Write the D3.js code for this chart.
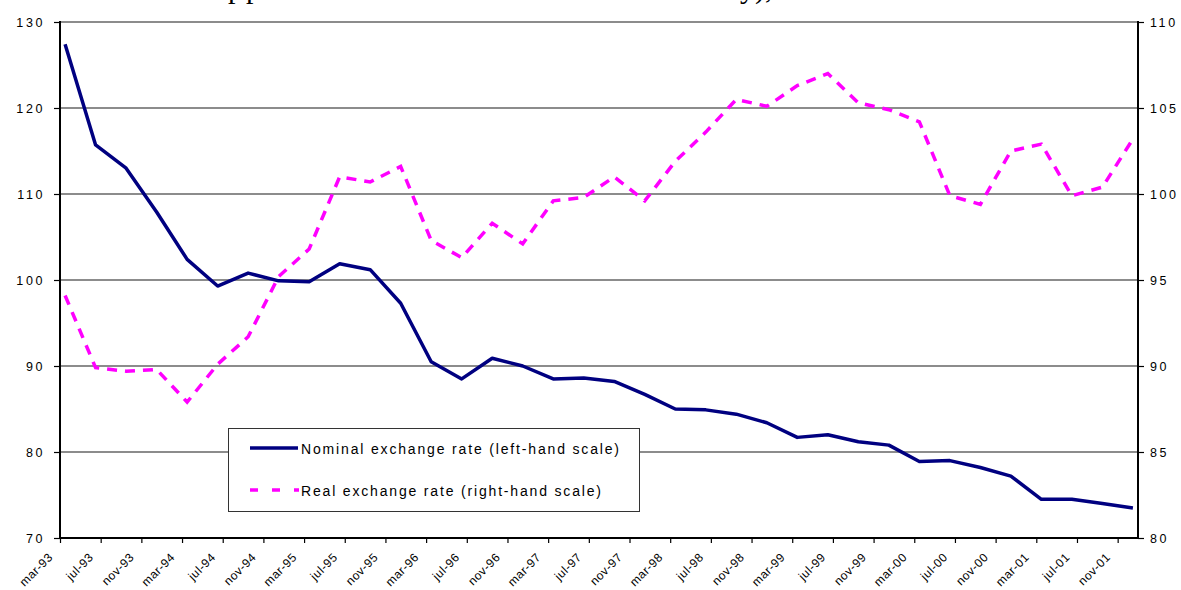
<!DOCTYPE html>
<html>
<head>
<meta charset="utf-8">
<script src="https://cdn.jsdelivr.net/npm/d3@7"></script>
<style>
  html, body { margin: 0; padding: 0; background: #fff; }
  svg { display: block; }
  text { font-family: "Liberation Sans", Arial, sans-serif; fill: #000; }
</style>
</head>
<body>
<svg id="chart" width="1181" height="590"></svg>
<script>
// Quarterly observations (mar-93 .. dec-01)
const quarters = [
  "mar-93","jun-93","sep-93","dec-93","mar-94","jun-94","sep-94","dec-94",
  "mar-95","jun-95","sep-95","dec-95","mar-96","jun-96","sep-96","dec-96",
  "mar-97","jun-97","sep-97","dec-97","mar-98","jun-98","sep-98","dec-98",
  "mar-99","jun-99","sep-99","dec-99","mar-00","jun-00","sep-00","dec-00",
  "mar-01","jun-01","sep-01","dec-01"
];
// Nominal exchange rate (left-hand scale)
const nominal = [
  127.4, 115.7, 113.0, 107.9, 102.4, 99.3, 100.8, 99.9,
  99.8, 101.9, 101.2, 97.3, 90.5, 88.5, 90.9, 90.0,
  88.5, 88.6, 88.2, 86.7, 85.0, 84.9, 84.4, 83.4,
  81.7, 82.0, 81.2, 80.8, 78.9, 79.0, 78.2, 77.2,
  74.5, 74.5, 74.0, 73.5
];
// Real exchange rate (right-hand scale)
const real = [
  94.1, 89.9, 89.7, 89.8, 87.9, 90.1, 91.7, 95.2,
  96.8, 101.0, 100.7, 101.6, 97.3, 96.3, 98.3, 97.1,
  99.6, 99.8, 101.0, 99.6, 101.9, 103.6, 105.5, 105.1,
  106.3, 107.0, 105.3, 104.9, 104.2, 99.9, 99.4, 102.5,
  102.9, 99.9, 100.4, 103.2
];
// Category axis tick labels (every 4 months)
const tickLabels = [
  "mar-93","jul-93","nov-93","mar-94","jul-94","nov-94","mar-95","jul-95","nov-95",
  "mar-96","jul-96","nov-96","mar-97","jul-97","nov-97","mar-98","jul-98","nov-98",
  "mar-99","jul-99","nov-99","mar-00","jul-00","nov-00","mar-01","jul-01","nov-01"
];
const leftTicks = [70, 80, 90, 100, 110, 120, 130];
const rightTicks = [80, 85, 90, 95, 100, 105, 110];
const seriesNames = ["Nominal exchange rate (left-hand scale)", "Real exchange rate (right-hand scale)"];

const monthNames = ["jan","feb","mar","apr","may","jun","jul","aug","sep","oct","nov","dec"];
function monthIndex(lbl) {
  const [m, y] = lbl.split("-");
  const yy = +y < 50 ? 2000 + (+y) : 1900 + (+y);
  return (yy - 1993) * 12 + monthNames.indexOf(m) - 2;
}

const svg = d3.select("#chart");
const L = 60, R = 1138, T = 22, B = 538;

const x = d3.scaleLinear().domain([0, 106]).range([L, R]);
const yL = d3.scaleLinear().domain([70, 130]).range([B, T]);
const yR = d3.scaleLinear().domain([80, 110]).range([B, T]);

// clipped title fragments at the very top (the title sits above the picture's edge)
const title = svg.append("g");
title.append("text").attr("x", 228).attr("y", -2).attr("font-size", 30).attr("letter-spacing", "3px")
  .style("font-family", "'Liberation Serif', 'Times New Roman', serif").text("pp");
title.append("text").attr("x", 740).attr("y", -2).attr("font-size", 30)
  .style("font-family", "'Liberation Serif', 'Times New Roman', serif").text("y),");

// gridlines
svg.append("g").selectAll("line").data(leftTicks.filter(d => d > 70)).join("line")
  .attr("x1", L).attr("x2", R)
  .attr("y1", d => yL(d)).attr("y2", d => yL(d))
  .attr("stroke", "#1a1a1a").attr("stroke-width", 1.2);

// left axis
const gL = svg.append("g").attr("transform", `translate(${L},0)`)
  .call(d3.axisLeft(yL).tickValues(leftTicks).tickSize(6).tickPadding(9));
gL.select(".domain").remove();
gL.selectAll(".tick line").attr("stroke", "#000").attr("stroke-width", 1.2);
gL.selectAll(".tick text").attr("font-size", 12.5).attr("letter-spacing", "2.6px")
  .attr("font-family", "'Liberation Sans', Arial, sans-serif").attr("fill", "#000");

// right axis
const gR = svg.append("g").attr("transform", `translate(${R},0)`)
  .call(d3.axisRight(yR).tickValues(rightTicks).tickSize(6).tickPadding(6));
gR.select(".domain").remove();
gR.selectAll(".tick line").attr("stroke", "#000").attr("stroke-width", 1.2);
gR.selectAll(".tick text").attr("font-size", 12.5).attr("letter-spacing", "2.6px")
  .attr("font-family", "'Liberation Sans', Arial, sans-serif").attr("fill", "#000");

// bottom axis
const tickPos = tickLabels.map(monthIndex);
const gB = svg.append("g").attr("transform", `translate(0,${B})`)
  .call(d3.axisBottom(x).tickValues(tickPos).tickSize(5).tickFormat((d, i) => tickLabels[i]));
gB.select(".domain").remove();
gB.selectAll(".tick line").attr("stroke", "#000").attr("stroke-width", 1.2);
gB.selectAll(".tick text")
  .attr("font-size", 12).attr("letter-spacing", "0.5px")
  .attr("font-family", "'Liberation Sans', Arial, sans-serif").attr("fill", "#000")
  .attr("text-anchor", "end").attr("y", 0).attr("dy", 0)
  .attr("transform", "translate(-7,20) rotate(-45)");

// frame axis lines
svg.append("line").attr("x1", L).attr("x2", L).attr("y1", T - 1).attr("y2", B + 1)
  .attr("stroke", "#000").attr("stroke-width", 2);
svg.append("line").attr("x1", R).attr("x2", R).attr("y1", T - 1).attr("y2", B + 1)
  .attr("stroke", "#000").attr("stroke-width", 2);
svg.append("line").attr("x1", L - 1).attr("x2", R + 1).attr("y1", B).attr("y2", B)
  .attr("stroke", "#000").attr("stroke-width", 2);

// series
const qx = quarters.map(q => x(monthIndex(q) + 0.5));
const lineL = d3.line().x((d, i) => qx[i]).y(d => yL(d));
const lineR = d3.line().x((d, i) => qx[i]).y(d => yR(d));

svg.append("path").datum(real).attr("d", lineR)
  .attr("fill", "none").attr("stroke", "#FF00FF").attr("stroke-width", 3.5)
  .attr("stroke-dasharray", "10,8");
svg.append("path").datum(nominal).attr("d", lineL)
  .attr("fill", "none").attr("stroke", "#000080").attr("stroke-width", 3.5)
  .attr("stroke-linejoin", "round");

// legend
const lg = svg.append("g");
lg.append("rect").attr("x", 228.5).attr("y", 428.5).attr("width", 411).attr("height", 83)
  .attr("fill", "#fff").attr("stroke", "#333").attr("stroke-width", 1);
lg.append("line").attr("x1", 250).attr("x2", 298).attr("y1", 448).attr("y2", 448)
  .attr("stroke", "#000080").attr("stroke-width", 3.5);
lg.append("line").attr("x1", 250).attr("x2", 299).attr("y1", 490).attr("y2", 490)
  .attr("stroke", "#FF00FF").attr("stroke-width", 3.5).attr("stroke-dasharray", "8,14");
lg.append("text").attr("x", 301).attr("y", 453.5).attr("font-size", 14)
  .attr("textLength", 318).attr("lengthAdjust", "spacing").text(seriesNames[0]);
lg.append("text").attr("x", 301).attr("y", 495.5).attr("font-size", 14)
  .attr("textLength", 300).attr("lengthAdjust", "spacing").text(seriesNames[1]);
</script>
</body>
</html>
